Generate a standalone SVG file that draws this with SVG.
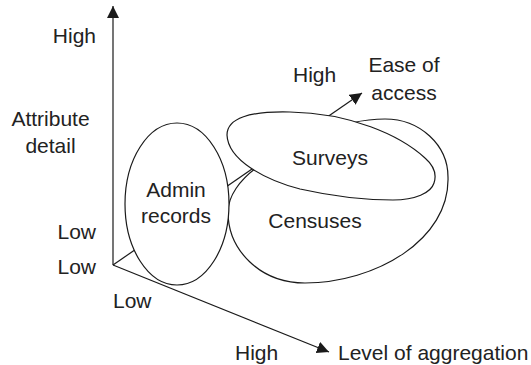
<svg xmlns="http://www.w3.org/2000/svg" width="531" height="365" viewBox="0 0 531 365">
  <style>
    .axis { stroke: #1a1a1a; stroke-width: 1.2; fill: none; }
    .shape { stroke: #1a1a1a; stroke-width: 1.2; fill: #ffffff; }
    text { font-family: "Liberation Sans", Arial, Helvetica, sans-serif; font-size: 21px; fill: #222222; }
    .mid { text-anchor: middle; }
    .end { text-anchor: end; }
  </style>
  <defs>
    <marker id="arrow" markerUnits="userSpaceOnUse" markerWidth="13" markerHeight="13" refX="12" refY="6" orient="auto">
      <path d="M0,0 L12,6 L0,12 z" fill="#1a1a1a"/>
    </marker>
  </defs>
  <rect width="531" height="365" fill="#ffffff"/>

  <!-- three axes from the common origin -->
  <g id="connectors">
    <line id="axis-attribute" class="axis" x1="113" y1="265" x2="113" y2="6" marker-end="url(#arrow)"/>
    <line id="axis-access" class="axis" x1="113" y1="265" x2="362" y2="93" marker-end="url(#arrow)"/>
    <line id="axis-aggregation" class="axis" x1="113" y1="265" x2="329" y2="352" marker-end="url(#arrow)"/>
  </g>

  <!-- data source regions -->
  <g id="censuses">
    <path class="shape" d="M228,212 C228,196 240,180 256,168 C290,143 340,119 385,119 C420,119 448,145 448,177 C450,240 375,283 305,283 C260,283 228,250 228,212 Z"/>
    <text class="mid" x="315" y="228">Censuses</text>
  </g>
  <g id="admin-records">
    <ellipse class="shape" cx="177" cy="204" rx="52" ry="81"/>
    <text class="mid" x="176" y="197">Admin</text>
    <text class="mid" x="176" y="223">records</text>
  </g>
  <g id="surveys">
    <path class="shape" d="M227,135 C227,118 250,111 290,112 C350,113 400,135 425,158 C433,165 437,174 434,183 C431,193 415,200 393,200 C375,200 340,198 300,189 C265,180 228,160 227,135 Z"/>
    <text class="mid" x="330" y="165">Surveys</text>
  </g>

  <!-- axis labels -->
  <g id="labels">
    <text class="end" x="96" y="43">High</text>
    <text class="mid" x="50.5" y="126">Attribute</text>
    <text class="mid" x="50.5" y="153">detail</text>
    <text class="end" x="96" y="239">Low</text>
    <text class="end" x="96" y="274">Low</text>
    <text x="113" y="308">Low</text>
    <text x="235" y="360">High</text>
    <text x="338" y="360">Level of aggregation</text>
    <text x="293" y="82">High</text>
    <text class="mid" x="404" y="72">Ease of</text>
    <text class="mid" x="404" y="100">access</text>
  </g>
</svg>
